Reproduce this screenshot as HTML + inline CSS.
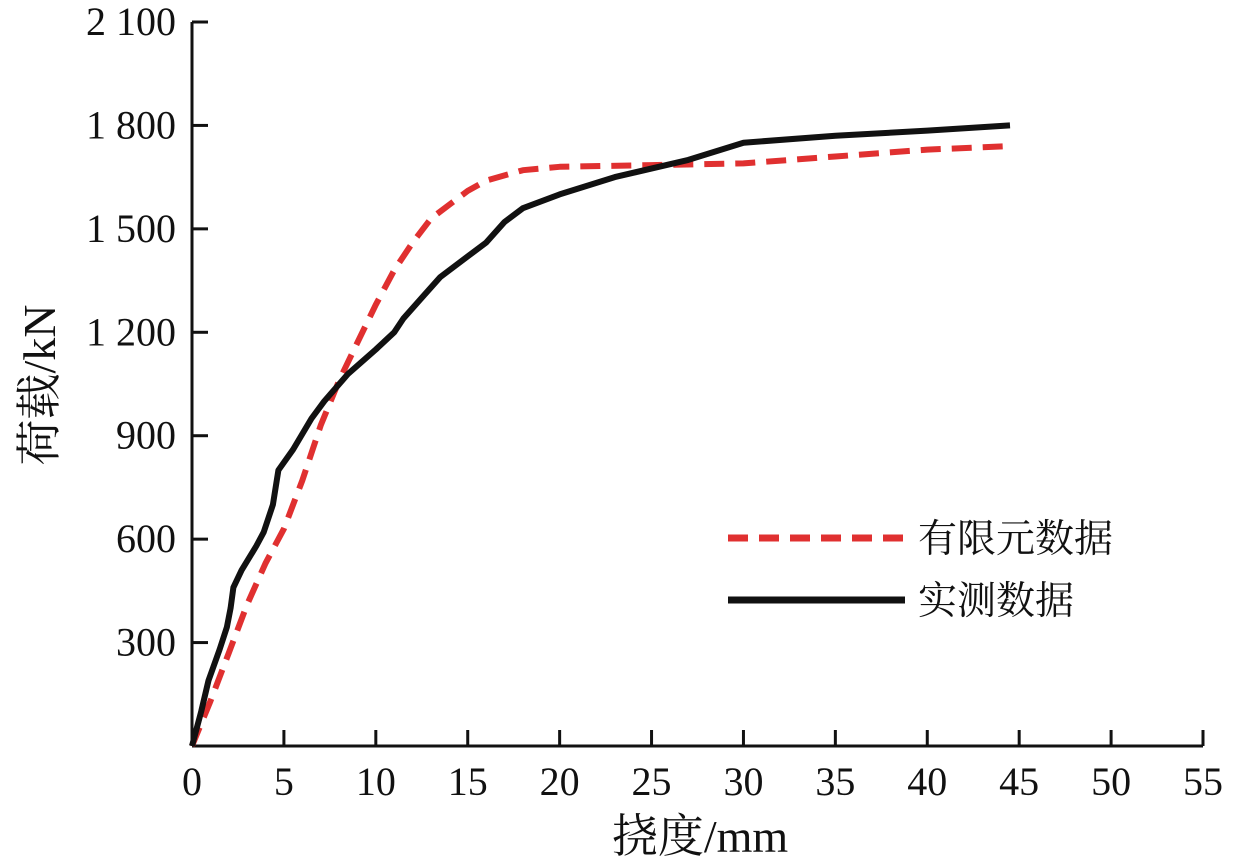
<!DOCTYPE html>
<html><head><meta charset="utf-8"><style>
body{margin:0;background:#fff}
svg{display:block}
text{font-family:"Liberation Serif","Noto Serif CJK SC",serif;fill:#111}
</style></head><body>
<svg id="chart" width="1233" height="868">
<g id="axes"></g><g id="series"></g>
<g>
<line x1="728" y1="538" x2="905" y2="538" stroke="#e03030" stroke-width="7" stroke-dasharray="20,11"/>
<text x="918" y="552" font-size="39">有限元数据</text>
<line x1="728" y1="600" x2="905" y2="600" stroke="#111" stroke-width="7"/>
<text x="918" y="614" font-size="39">实测数据</text>
</g>
<text x="700" y="852" font-size="46" text-anchor="middle">挠度/mm</text>
<text transform="translate(55,385) rotate(-90)" font-size="46" text-anchor="middle">荷载/kN</text>
</svg>
<script>
const xTicks=[0,5,10,15,20,25,30,35,40,45,50,55];
const yTicks=[300,600,900,1200,1500,1800,2100];
const yTickLabels=["300","600","900","1 200","1 500","1 800","2 100"];
const testX=[0,0.5,0.9,1.5,1.9,2.1,2.25,2.7,3.5,3.9,4.4,4.7,5.5,6.5,7.2,8.5,10,11,11.5,12.5,13.5,15,16,17,18,20,23,27,30,35,40,44.5];
const testY=[0,100,190,280,345,400,460,510,580,620,700,800,860,950,1000,1080,1150,1200,1240,1300,1360,1420,1460,1520,1560,1600,1650,1700,1750,1770,1785,1800];
const femX=[0,1,2,3,4,5,6,7,8,9,10,11,12,13,15,16,18,20,25,30,35,40,44.5];
const femY=[0,130,270,410,530,630,770,930,1060,1170,1280,1380,1460,1530,1610,1640,1670,1680,1685,1690,1710,1730,1740];
const X=v=>192+v*(1203-192)/55;
const Y=v=>746-v*(746-22)/2100;
const NS="http://www.w3.org/2000/svg";
const ax=document.getElementById('axes'),se=document.getElementById('series');
function mk(tag,at,parent){const e=document.createElementNS(NS,tag);for(const k in at)e.setAttribute(k,at[k]);parent.appendChild(e);return e;}
const xa=mk('line',{x1:X(0),y1:Y(0),x2:X(55),y2:Y(0),stroke:'#111','stroke-width':3},ax);


const ya=mk('line',{x1:X(0),y1:Y(0),x2:X(0),y2:Y(2100),stroke:'#111','stroke-width':3},ax);


xTicks.forEach(t=>{
 if(t>0){const l=mk('line',{x1:X(t),y1:Y(0),x2:X(t),y2:Y(0)-16,stroke:'#111','stroke-width':3},ax);
 
 }
 const tx=mk('text',{x:X(t),y:795,'font-size':40,'text-anchor':'middle'},ax);tx.textContent=t;
 
 
});
yTicks.forEach((t,i)=>{
 const l=mk('line',{x1:X(0),y1:Y(t),x2:X(0)+16,y2:Y(t),stroke:'#111','stroke-width':3},ax);
 
 
 const tx=mk('text',{x:176,y:Y(t)+13,'font-size':40,'text-anchor':'end'},ax);tx.textContent=yTickLabels[i];
 
 
});
const pts=(xs,ys)=>xs.map((x,i)=>X(x).toFixed(1)+','+Y(ys[i]).toFixed(1)).join(' ');
const fem=mk('polyline',{points:pts(femX,femY),fill:'none',stroke:'#e03030','stroke-width':6,'stroke-dasharray':'20,11','stroke-linejoin':'round'},se);


const test=mk('polyline',{points:pts(testX,testY),fill:'none',stroke:'#111','stroke-width':6,'stroke-linejoin':'round'},se);


</script>
</body></html>
